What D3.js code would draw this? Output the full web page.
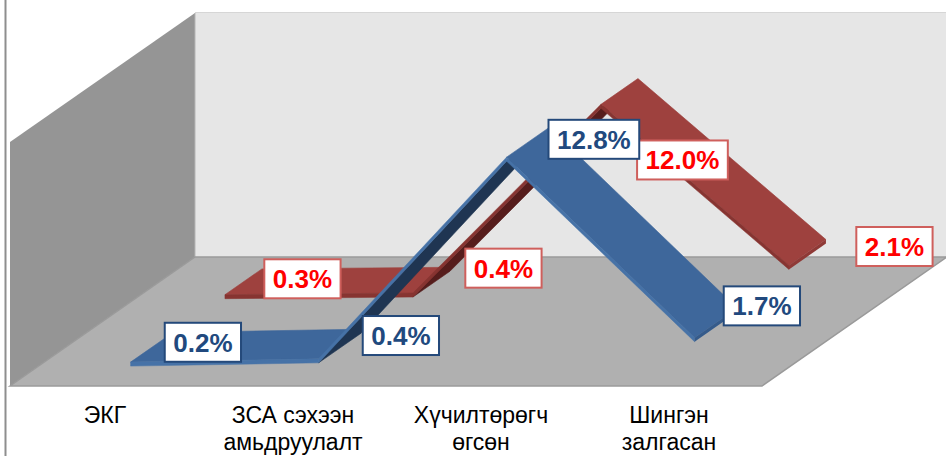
<!DOCTYPE html>
<html>
<head>
<meta charset="utf-8">
<script src="https://cdn.jsdelivr.net/npm/d3@7"></script>
<style>
html,body{margin:0;padding:0;background:#fff;}
svg{display:block;}
</style>
</head>
<body>
<svg id="chart" width="946" height="456"></svg>
<script>
// ---- data ----
const categories = ["ЭКГ", "ЗСА сэхээн амьдруулалт", "Хүчилтөрөгч өгсөн", "Шингэн залгасан"];
const categoryLines = [["ЭКГ"], ["ЗСА сэхээн", "амьдруулалт"], ["Хүчилтөрөгч", "өгсөн"], ["Шингэн", "залгасан"]];
const seriesBlue = [0.2, 0.4, 12.8, 1.7];
const seriesRed = [0.3, 0.4, 12.0, 2.1];
const valueDomain = [0, 15];

// ---- layout / style ----
const svg = d3.select("#chart");
const floorFrontY = 386, wallTopFrontY = 142;
const floorLeft = 10, floorRight = 762;
const depthVec = [185, -129];
const thick = 4;

const band = d3.scaleBand().domain(categories).range([floorLeft, floorRight]);
const xc = c => band(c) + band.bandwidth() / 2;
const y = d3.scaleLinear().domain(valueDomain).range([floorFrontY, wallTopFrontY]);
const ribbonShift = -3;

function proj(i, v, d) {
  return [xc(categories[i]) + ribbonShift + d * depthVec[0], y(v) + d * depthVec[1]];
}
const poly = pts => "M" + pts.map(p => p[0].toFixed(2) + "," + p[1].toFixed(2)).join("L") + "Z";

// left border line
svg.append("line").attr("x1", 5.5).attr("x2", 5.5).attr("y1", 0).attr("y2", 456)
  .attr("stroke", "#8e8e8e").attr("stroke-width", 2);

// back wall
const bl = [floorLeft + depthVec[0], floorFrontY + depthVec[1]];
const tl = [floorLeft + depthVec[0], wallTopFrontY + depthVec[1]];
svg.append("path").attr("d", poly([tl, [960, tl[1]], [960, bl[1]], bl]))
  .attr("fill", "#e6e6e6");
svg.append("line").attr("x1", tl[0]).attr("x2", 946).attr("y1", tl[1] - 0.5).attr("y2", tl[1] - 0.5)
  .attr("stroke", "#d6d6d6").attr("stroke-width", 1.2);
// side wall
svg.append("path").attr("d", poly([[floorLeft, wallTopFrontY], tl, bl, [floorLeft, floorFrontY]]))
  .attr("fill", "#959595");
svg.append("line").attr("x1", tl[0]).attr("x2", bl[0]).attr("y1", tl[1]).attr("y2", bl[1])
  .attr("stroke", "#b5b5b5").attr("stroke-width", 1);
// floor
svg.append("path").attr("d", poly([[floorLeft, floorFrontY], bl,
    [floorRight + depthVec[0], floorFrontY + depthVec[1]], [floorRight, floorFrontY]]))
  .attr("fill", "#b0b0b0").attr("stroke", "#9a9a9a").attr("stroke-width", 1.5);

// ribbons
function ribbon(values, d0, d1, col) {
  const g = svg.append("g");
  const F = values.map((v, i) => proj(i, v, d0));
  const B = values.map((v, i) => proj(i, v, d1));
  const dn = p => [p[0], p[1] + thick];
  for (let i = 0; i < values.length - 1; i++) {
    const F0 = F[i], F1 = F[i + 1], B0 = B[i], B1 = B[i + 1];
    const cross = (F1[0] - F0[0]) * (B0[1] - F0[1]) - (F1[1] - F0[1]) * (B0[0] - F0[0]);
    if (cross < 0) {
      g.append("path").attr("d", poly([F0, F1, B1, B0])).attr("fill", col.top)
        .attr("stroke", col.top).attr("stroke-width", 0.6);
    } else {
      g.append("path").attr("d", poly([dn(F0), dn(F1), dn(B1), dn(B0)])).attr("fill", col.under)
        .attr("stroke", col.under).attr("stroke-width", 0.6);
    }
    g.append("path").attr("d", poly([F0, F1, dn(F1), dn(F0)])).attr("fill", col.front)
      .attr("stroke", col.front).attr("stroke-width", 0.5);
  }
  const n = values.length - 1;
  g.append("path").attr("d", poly([F[n], B[n], dn(B[n]), dn(F[n])])).attr("fill", col.cap);
}

const redCol = {top: "#9e413e", front: "#873431", under: "#561d1c", cap: "#8f3936"};
const blueCol = {top: "#3e679b", front: "#4672a7", under: "#1f3552", cap: "#355b8b"};
const redDepth = [0.67, 0.87], blueDepth = [0.16, 0.39];
ribbon(seriesRed, redDepth[0], redDepth[1], redCol);
ribbon(seriesBlue, blueDepth[0], blueDepth[1], blueCol);

// category labels
const catG = svg.append("g").attr("font-family", "'Liberation Sans', Arial, sans-serif")
  .attr("font-size", 23).attr("fill", "#000").attr("text-anchor", "middle");
categories.forEach((c, i) => {
  const t = catG.append("text").attr("x", xc(c) + 1).attr("y", 423);
  categoryLines[i].forEach((ln, k) => {
    t.append("tspan").attr("x", xc(c) + 1).attr("y", 423 + k * 27).text(ln);
  });
});

// data labels
const fmt = v => d3.format(".1f")(v) + "%";
const blueLabelOffset = [[51, -5], [61, -8.5], [66, -3], [46, -17]];
const redLabelOffset = [[59, -3], [72, -12], [63, 68.5], [87, -6]];
function labels(values, depth, offs, textColor, borderColor) {
  const dc = (depth[0] + depth[1]) / 2;
  values.forEach((v, i) => {
    const p = proj(i, v, dc);
    const cx = p[0] + offs[i][0], cy = p[1] + offs[i][1];
    const g = svg.append("g");
    const rect = g.append("rect");
    const txt = g.append("text").attr("x", cx).attr("y", cy).attr("dy", "0.36em")
      .attr("text-anchor", "middle").attr("font-family", "'Liberation Sans', Arial, sans-serif")
      .attr("font-weight", "bold").attr("font-size", 26).attr("fill", textColor).text(fmt(v));
    const w = txt.node().getComputedTextLength() + 17;
    const h = 39;
    rect.attr("x", cx - w / 2).attr("y", cy - h / 2).attr("width", w).attr("height", h)
      .attr("fill", "#fff").attr("stroke", borderColor).attr("stroke-width", 2);
  });
}
labels(seriesRed, redDepth, redLabelOffset, "#ff0000", "#cf5f5c");
labels(seriesBlue, blueDepth, blueLabelOffset, "#21497e", "#24497a");
</script>
</body>
</html>
